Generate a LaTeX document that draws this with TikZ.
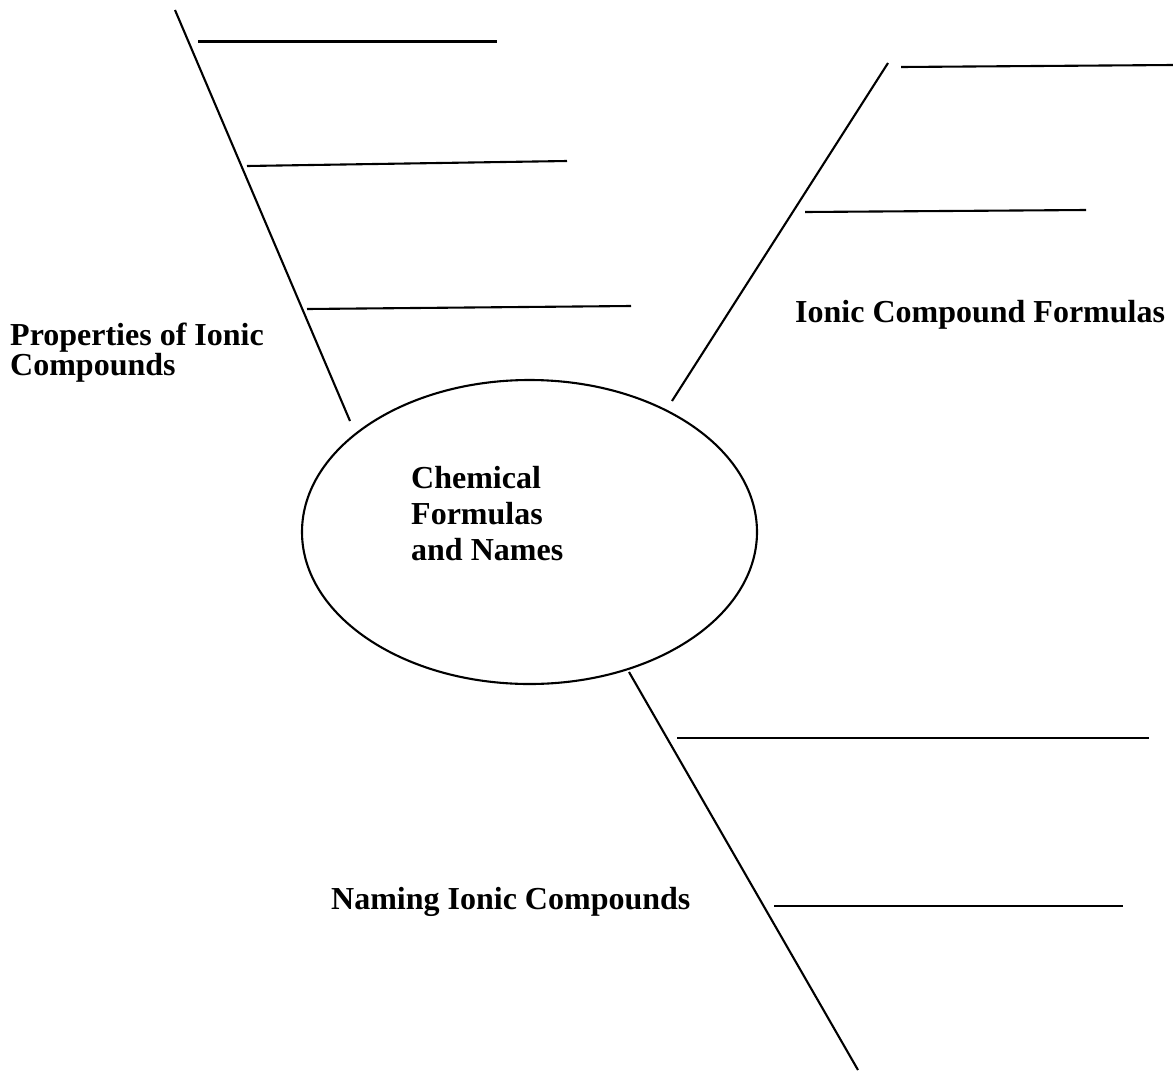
\documentclass[tikz,border=0pt]{standalone}
\usepackage{fontspec}
\setmainfont{Liberation Serif}
\usetikzlibrary{shapes.geometric}
\begin{document}
\begin{tikzpicture}[x=1pt,y=-1pt,
  ln/.style={line width=2.1pt,black},
  lbl/.style={font=\fontsize{32}{36}\selectfont\bfseries,inner sep=0pt,anchor=base west,align=left},
  lblb/.style={font=\fontsize{32}{30}\selectfont\bfseries,inner sep=0pt,anchor=base west,align=left}]
\useasboundingbox[fill=white] (0,0) rectangle (1173,1074);
% centre ellipse
\node[ellipse,draw,line width=2.1pt,minimum width=455pt,minimum height=304pt,inner sep=0pt] (c) at (529.5,532) {};
\node[lbl] (ct) at (411,560) {Chemical\\Formulas\\and Names};
% left spine
\coordinate (L0) at (175,10);
\coordinate (L1) at (350,421);
\draw[ln] (L0) -- (L1);
\coordinate (La) at (198,41.5);  \coordinate (Lb) at (497,41.5);
\coordinate (Lc) at (247,166);   \coordinate (Ld) at (567,161);
\coordinate (Le) at (307,309);   \coordinate (Lf) at (631,306);
\draw[ln] (La) -- (Lb);
\draw[ln] (Lc) -- (Ld);
\draw[ln] (Le) -- (Lf);
\node[lblb] (lt) at (10,375) {Properties of Ionic\\Compounds};
% right spine
\coordinate (R0) at (888,63);
\coordinate (R1) at (672,401);
\draw[ln] (R0) -- (R1);
\coordinate (Ra) at (901,67);  \coordinate (Rb) at (1173,65);
\coordinate (Rc) at (805,212); \coordinate (Rd) at (1086,210);
\draw[ln] (Ra) -- (Rb);
\draw[ln] (Rc) -- (Rd);
\node[lbl] (rt) at (795,322) {Ionic Compound Formulas};
% bottom spine
\coordinate (B0) at (629,672);
\coordinate (B1) at (858,1070);
\draw[ln] (B0) -- (B1);
\coordinate (Ba) at (677,738);  \coordinate (Bb) at (1149,738);
\coordinate (Bc) at (774,906);  \coordinate (Bd) at (1123,906);
\draw[ln] (Ba) -- (Bb);
\draw[ln] (Bc) -- (Bd);
\node[lbl] (bt) at (331,909) {Naming Ionic Compounds};
\end{tikzpicture}
\end{document}
